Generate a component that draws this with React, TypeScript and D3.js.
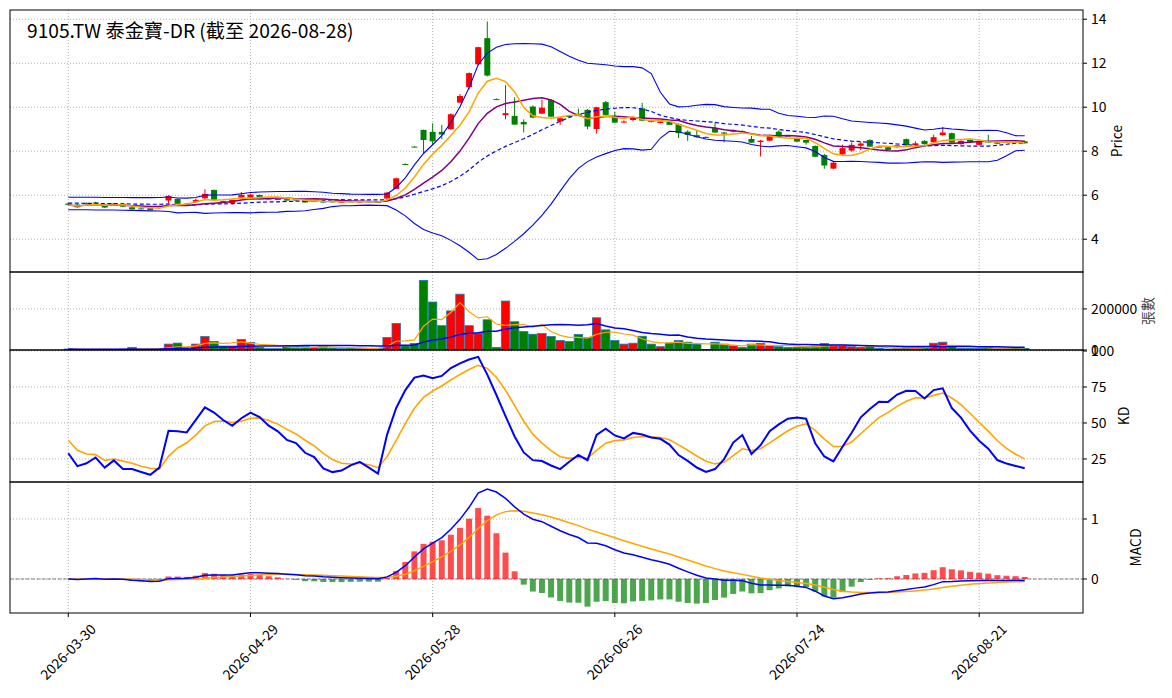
import * as d3 from 'd3'

// ---- data ----
const tickIdx = [0, 20, 40, 60, 80, 100]
const tickLabels = ['2026-03-30', '2026-04-29', '2026-05-28', '2026-06-26', '2026-07-24', '2026-08-21']

const open = [
  5.62, 5.58, 5.65, 5.67, 5.52, 5.62, 5.61, 5.45, 5.4, 5.41,
  5.5, 5.76, 5.83, 5.62, 5.7, 5.86, 6.24, 5.73, 5.64, 5.89,
  5.89, 6.01, 5.85, 5.81, 5.82, 5.82, 5.76, 5.72, 5.74, 5.72,
  5.68, 5.72, 5.68, 5.72, 5.7, 5.85, 6.29, 7.42, 8.21, 8.97,
  8.88, 8.88, 9.0, 10.21, 10.91, 11.95, 13.14, 10.37, 9.64, 9.6,
  9.33, 10.03, 9.71, 10.33, 9.35, 9.6, 9.7, 9.88, 9.01, 10.23,
  9.6, 9.33, 9.42, 9.95, 9.4, 9.28, 9.33, 9.24, 8.89, 8.73,
  8.65, 9.05, 8.85, 8.89, 8.91, 8.56, 8.42, 8.48, 8.89, 8.71,
  8.59, 8.51, 8.24, 7.83, 7.21, 7.86, 8.03, 8.25, 8.51, 8.21,
  8.18, 8.18, 8.55, 8.27, 8.47, 8.41, 8.73, 8.82, 8.32, 8.55,
  8.29, 8.44, 8.41, 8.42, 8.42, 8.45,
]
const high = [
  5.66, 5.6, 5.67, 5.7, 5.55, 5.64, 5.64, 5.47, 5.42, 5.43,
  5.52, 6.0, 5.86, 5.65, 5.85, 6.27, 6.26, 5.75, 5.8, 6.15,
  6.05, 6.03, 5.87, 5.84, 5.84, 5.84, 5.78, 5.8, 5.76, 5.74,
  5.72, 5.74, 5.72, 5.73, 5.72, 6.14, 6.8, 7.45, 8.23, 8.98,
  9.27, 9.2, 9.72, 10.6, 11.58, 12.75, 13.9, 10.4, 11.0, 10.45,
  9.45, 10.08, 10.35, 10.36, 9.55, 9.62, 9.94, 9.92, 10.02, 10.28,
  9.8, 9.4, 9.58, 10.2, 9.43, 9.36, 9.36, 9.28, 8.95, 8.95,
  8.67, 9.3, 8.88, 8.99, 8.95, 8.7, 8.52, 8.76, 8.95, 8.73,
  8.62, 8.53, 8.26, 7.88, 7.52, 8.3, 8.4, 8.42, 8.54, 8.23,
  8.2, 8.29, 8.58, 8.45, 8.5, 8.75, 9.1, 8.85, 8.5, 8.58,
  8.47, 8.75, 8.44, 8.44, 8.44, 8.48,
]
const low = [
  5.54, 5.43, 5.62, 5.62, 5.42, 5.6, 5.46, 5.34, 5.37, 5.31,
  5.47, 5.62, 5.58, 5.58, 5.68, 5.84, 5.77, 5.68, 5.58, 5.87,
  5.87, 5.89, 5.81, 5.8, 5.75, 5.75, 5.66, 5.7, 5.66, 5.68,
  5.66, 5.69, 5.67, 5.67, 5.65, 5.84, 6.28, 7.38, 8.18, 7.9,
  8.3, 8.55, 8.98, 10.18, 10.8, 11.9, 11.4, 10.33, 9.45, 9.2,
  8.85, 9.5, 9.68, 9.55, 9.2, 9.55, 9.62, 9.0, 8.8, 9.63,
  9.28, 9.28, 9.35, 9.37, 9.3, 9.26, 9.18, 8.6, 8.47, 8.62,
  8.62, 8.83, 8.4, 8.86, 8.88, 8.37, 7.76, 8.46, 8.64, 8.68,
  8.42, 8.3, 7.73, 7.2, 7.19, 7.8, 7.98, 8.05, 8.19, 8.19,
  8.04, 8.16, 8.25, 8.25, 8.3, 8.39, 8.7, 8.37, 8.3, 8.39,
  8.27, 8.4, 8.32, 8.39, 8.39, 8.34,
]
const close = [
  5.56, 5.45, 5.64, 5.66, 5.44, 5.61, 5.48, 5.36, 5.39, 5.33,
  5.49, 5.97, 5.61, 5.6, 5.79, 6.06, 5.79, 5.71, 5.79, 6.02,
  6.03, 5.91, 5.83, 5.83, 5.76, 5.76, 5.67, 5.76, 5.67, 5.7,
  5.7, 5.71, 5.71, 5.68, 5.66, 6.12, 6.77, 7.41, 8.2, 8.51,
  8.45, 8.76, 9.68, 10.51, 11.55, 12.73, 11.44, 10.36, 9.73, 9.21,
  9.22, 9.53, 9.98, 9.57, 9.5, 9.57, 9.65, 9.12, 10.0, 9.65,
  9.3, 9.35, 9.55, 9.39, 9.33, 9.35, 9.2, 8.82, 8.74, 8.64,
  8.64, 8.85, 8.8, 8.97, 8.9, 8.39, 8.48, 8.74, 8.66, 8.7,
  8.44, 8.39, 7.75, 7.35, 7.48, 8.14, 8.29, 8.35, 8.21, 8.2,
  8.06, 8.27, 8.27, 8.36, 8.32, 8.64, 8.85, 8.39, 8.47, 8.41,
  8.45, 8.43, 8.34, 8.41, 8.41, 8.36,
]
const volume = [
  4800, 3000, 2500, 2500, 3000, 2500, 4000, 12800, 3000, 4000,
  5000, 28800, 33600, 5000, 28800, 65600, 41600, 19200, 19200, 51200,
  36800, 12800, 6400, 6400, 16000, 16000, 16000, 12800, 16000, 9600,
  6400, 9600, 8000, 8000, 6400, 60800, 129600, 19200, 32000, 339200,
  233600, 118400, 190400, 272000, 118400, 81600, 147200, 12800, 238400, 137600,
  89600, 76800, 80000, 65600, 46000, 41000, 76000, 60000, 157000, 98000,
  46000, 28600, 33000, 67000, 28600, 16000, 33000, 46000, 38000, 28600,
  2000, 38000, 28600, 20600, 12700, 28600, 31700, 20600, 15900, 12700,
  12700, 15900, 19000, 31700, 23800, 23800, 15900, 12700, 15900, 8000,
  4800, 8000, 12700, 12700, 12700, 33000, 38000, 15900, 8000, 8000,
  8000, 12700, 8000, 8000, 12700, 8000,
]
// indicator values at the left edge, where the rolling windows are not yet full
const kEarly = [29, 20, 22, 26, 19, 24, 18, 18, 16, 14, 19]
const dEarly = [38, 31, 28.5, 28, 24, 25, 23.5, 22, 20, 18.5, 18]
const bbUpperEarly = [5.91, 5.91, 5.91, 5.91, 5.9, 5.9, 5.9, 5.89, 5.89, 5.89, 5.9, 5.92]
const bbMidEarly = [5.64, 5.64, 5.63, 5.63, 5.62, 5.62, 5.61, 5.6, 5.6, 5.59, 5.59, 5.6]
const bbLowerEarly = [5.34, 5.34, 5.34, 5.33, 5.33, 5.33, 5.32, 5.31, 5.3, 5.29, 5.28, 5.26]

// ---- indicators ----
function sma(a: number[], n: number) {
  return a.map((_, i) => d3.mean(a.slice(Math.max(0, i - n + 1), i + 1)) as number)
}
function sdev(a: number[], n: number) {
  return a.map((_, i) => {
    const w = a.slice(Math.max(0, i - n + 1), i + 1)
    return w.length > 1 ? (d3.deviation(w) as number) : 0
  })
}
function ema(a: number[], n: number) {
  const k = 2 / (n + 1)
  const out: number[] = []
  a.forEach((v, i) => out.push(i === 0 ? v : v * k + out[i - 1] * (1 - k)))
  return out
}
const withEarly = (early: number[], full: number[]) => full.map((v, i) => (i < early.length ? early[i] : v))

const ma5 = sma(close, 5)
const ma10 = sma(close, 10)
const mid20 = sma(close, 20)
const sd = sdev(close, 20)
const mid = withEarly(bbMidEarly, mid20)
const upper = withEarly(bbUpperEarly, mid20.map((m, i) => m + 2 * sd[i]))
const lower = withEarly(bbLowerEarly, mid20.map((m, i) => m - 2 * sd[i]))
const volMa5 = sma(volume, 5)
const volMa20 = sma(volume, 20)

const kLine: number[] = [...kEarly]
const dLine: number[] = [...dEarly]
{
  let k = kEarly[kEarly.length - 1]
  let d = dEarly[dEarly.length - 1]
  for (let i = kEarly.length; i < close.length; i++) {
    const lo = d3.min(low.slice(Math.max(0, i - 8), i + 1)) as number
    const hi = d3.max(high.slice(Math.max(0, i - 8), i + 1)) as number
    const rsv = hi === lo ? 50 : ((close[i] - lo) / (hi - lo)) * 100
    k = (2 / 3) * k + rsv / 3
    d = (2 / 3) * d + k / 3
    kLine.push(k)
    dLine.push(d)
  }
}
const ema12 = ema(close, 12)
const ema26 = ema(close, 26)
const dif = ema12.map((v, i) => v - ema26[i])
const dea = ema(dif, 9)
const hist = dif.map((v, i) => 2 * (v - dea[i]))

// ---- layout ----
const W = 1172
const H = 698
const L = 10
const R = 1083
const FONT = '"Noto Sans CJK TC", "Noto Sans", sans-serif'
const idx = d3.range(close.length)

const x = d3.scaleLinear([-6.4, 111.4], [L, R])
const yP = d3.scaleLinear([2.51, 14.42], [272, 10])
const yV = d3.scaleLinear([0, 380000], [350, 272])
const yK = d3.scaleLinear([9.0, 100.7], [482, 350])
const yM = d3.scaleLinear([-0.567, 1.617], [613, 482])

const panels = [
  { y: yP, top: 10, bottom: 272, ticks: [4, 6, 8, 10, 12, 14], label: 'Price', lx: 1122 },
  { y: yV, top: 272, bottom: 350, ticks: [0, 200000], label: '張數', lx: 1153 },
  { y: yK, top: 350, bottom: 482, ticks: [25, 50, 75, 100], label: 'KD', lx: 1129 },
  { y: yM, top: 482, bottom: 613, ticks: [0, 1], label: 'MACD', lx: 1141 },
]

const up = (i: number) => close[i] > open[i]
const lineOf = (vals: number[], y: d3.ScaleLinear<number, number>) =>
  d3.line<number>().x((_, i) => x(i)).y((v) => y(v))(vals) ?? ''

export default function App() {
  const bw = 6
  return (
    <svg width={W} height={H} style={{ display: 'block', fontFamily: FONT, position: 'absolute', left: 0, top: 0 }}>
      <rect width={W} height={H} fill="#fff" />
      <defs>
        {panels.map((p, k) => (
          <clipPath id={`clip${k}`} key={k}>
            <rect x={L} y={p.top} width={R - L} height={p.bottom - p.top} />
          </clipPath>
        ))}
      </defs>

      {/* grids */}
      {panels.map((p, k) => (
        <g key={`g${k}`} stroke="#a8a8a8" strokeWidth={0.9} strokeDasharray="1,2">
          {p.ticks.map((t) => (
            <line key={t} x1={L} x2={R} y1={p.y(t)} y2={p.y(t)} />
          ))}
          {tickIdx.map((t) => (
            <line key={`v${t}`} x1={x(t)} x2={x(t)} y1={p.top} y2={p.bottom} />
          ))}
        </g>
      ))}

      {/* price panel */}
      <g clipPath="url(#clip0)">
        {idx.map((i) => {
          const c = up(i) ? '#ff0000' : '#008000'
          const yt = yP(Math.max(open[i], close[i]))
          const yb = yP(Math.min(open[i], close[i]))
          return (
            <g key={i}>
              <line x1={x(i)} x2={x(i)} y1={yP(high[i])} y2={yP(low[i])} stroke={c} strokeWidth={1} />
              <rect x={x(i) - bw / 2} y={yt} width={bw} height={Math.max(1, yb - yt)} fill={c} />
            </g>
          )
        })}
        <path d={lineOf(upper, yP)} fill="none" stroke="#0000ff" strokeWidth={1.1} />
        <path d={lineOf(lower, yP)} fill="none" stroke="#0000ff" strokeWidth={1.1} />
        <path d={lineOf(mid, yP)} fill="none" stroke="#0000ff" strokeWidth={1.2} strokeDasharray="4,2.5" />
        <path d={lineOf(ma10, yP)} fill="none" stroke="#800080" strokeWidth={1.5} />
        <path d={lineOf(ma5, yP)} fill="none" stroke="#ffa500" strokeWidth={1.5} />
      </g>
      <text x={27} y={38} fontSize={19.2} fill="#000">
        9105.TW 泰金寶-DR (截至 2026-08-28)
      </text>

      {/* volume panel */}
      <g clipPath="url(#clip1)">
        {idx.map((i) => (
          <rect
            key={i}
            x={x(i) - 4.2}
            y={yV(volume[i])}
            width={8.4}
            height={yV(0) - yV(volume[i])}
            fill={up(i) ? '#ff0000' : '#008000'}
            stroke="#1f77b4"
            strokeWidth={0.8}
          />
        ))}
        <path d={lineOf(volMa5, yV)} fill="none" stroke="#ffa500" strokeWidth={1.2} />
        <path d={lineOf(volMa20, yV)} fill="none" stroke="#0000ff" strokeWidth={1.5} />
      </g>

      {/* KD panel */}
      <g clipPath="url(#clip2)">
        <path d={lineOf(dLine, yK)} fill="none" stroke="#ffa500" strokeWidth={1.6} />
        <path d={lineOf(kLine, yK)} fill="none" stroke="#0000ff" strokeWidth={2} />
      </g>

      {/* MACD panel */}
      <g clipPath="url(#clip3)">
        <line x1={L} x2={R} y1={yM(0)} y2={yM(0)} stroke="#808080" strokeWidth={1} strokeDasharray="3.7,1.6" />
        {idx.map((i) => (
          <rect
            key={i}
            x={x(i) - 3}
            y={Math.min(yM(0), yM(hist[i]))}
            width={6}
            height={Math.abs(yM(hist[i]) - yM(0))}
            fill={hist[i] >= 0 ? '#ff0000' : '#008000'}
            fillOpacity={0.7}
          />
        ))}
        <path d={lineOf(dea, yM)} fill="none" stroke="#ffa500" strokeWidth={1.5} />
        <path d={lineOf(dif, yM)} fill="none" stroke="#0000ff" strokeWidth={1.5} />
      </g>

      {/* frames, ticks, labels */}
      {panels.map((p, k) => (
        <g key={`f${k}`}>
          <rect x={L} y={p.top} width={R - L} height={p.bottom - p.top} fill="none" stroke="#000" strokeWidth={1} />
          {p.ticks.map((t) => (
            <g key={t}>
              <line x1={R} x2={R + 4} y1={p.y(t)} y2={p.y(t)} stroke="#000" />
              <text x={R + 8} y={p.y(t)} dy="0.35em" fontSize={13.9} fill="#000">
                {t}
              </text>
            </g>
          ))}
          <text
            transform={`translate(${p.lx},${(p.top + p.bottom) / 2}) rotate(-90)`}
            textAnchor="middle"
            fontSize={13.9}
            fill={k === 1 ? '#444' : '#000'}
          >
            {p.label}
          </text>
        </g>
      ))}

      {/* x axis */}
      {tickIdx.map((t, k) => (
        <g key={t}>
          <line x1={x(t)} x2={x(t)} y1={613} y2={617} stroke="#000" />
          <text
            transform={`translate(${x(t)},652) rotate(-45)`}
            textAnchor="middle"
            dy="0.35em"
            fontSize={13.9}
            fill="#000"
          >
            {tickLabels[k]}
          </text>
        </g>
      ))}
    </svg>
  )
}
